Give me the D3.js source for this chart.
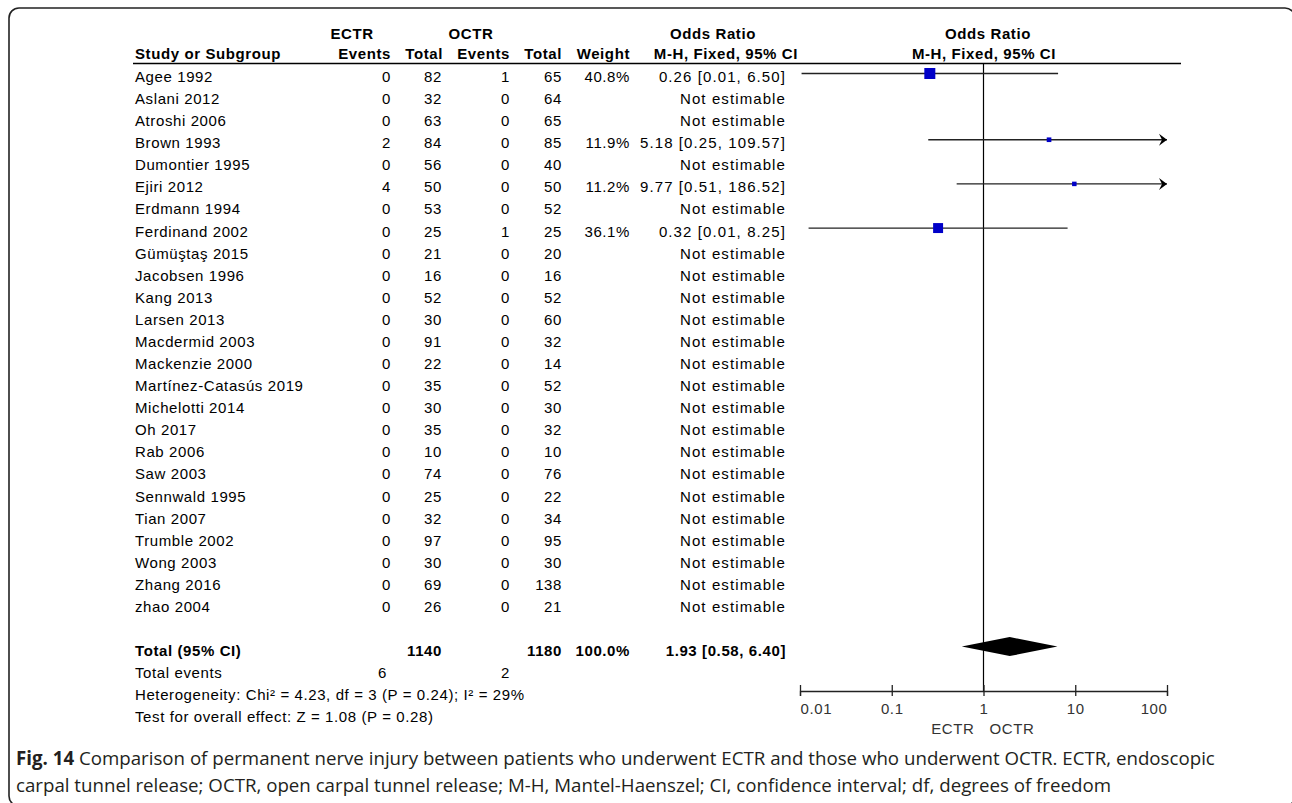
<!DOCTYPE html>
<html><head><meta charset="utf-8">
<script src="https://cdn.jsdelivr.net/npm/d3@7"></script>
<style>body{margin:0;background:#fff}svg{display:block}</style>
</head><body>
<svg id="c" width="1292" height="803"></svg>
<script>
const studies = ["Agee 1992","Aslani 2012","Atroshi 2006","Brown 1993","Dumontier 1995","Ejiri 2012","Erdmann 1994","Ferdinand 2002","Gümüştaş 2015","Jacobsen 1996","Kang 2013","Larsen 2013","Macdermid 2003","Mackenzie 2000","Martínez-Catasús 2019","Michelotti 2014","Oh 2017","Rab 2006","Saw 2003","Sennwald 1995","Tian 2007","Trumble 2002","Wong 2003","Zhang 2016","zhao 2004"];
const ectrEvents = [0,0,0,2,0,4,0,0,0,0,0,0,0,0,0,0,0,0,0,0,0,0,0,0,0];
const ectrTotal  = [82,32,63,84,56,50,53,25,21,16,52,30,91,22,35,30,35,10,74,25,32,97,30,69,26];
const octrEvents = [1,0,0,0,0,0,0,1,0,0,0,0,0,0,0,0,0,0,0,0,0,0,0,0,0];
const octrTotal  = [65,64,65,85,40,50,52,25,20,16,52,60,32,14,52,30,32,10,76,22,34,95,30,138,21];
const weights    = [40.8,null,null,11.9,null,11.2,null,36.1,null,null,null,null,null,null,null,null,null,null,null,null,null,null,null,null,null];
const oddsRatio  = [0.26,null,null,5.18,null,9.77,null,0.32,null,null,null,null,null,null,null,null,null,null,null,null,null,null,null,null,null];
const ciLow      = [0.0104,null,null,0.25,null,0.51,null,0.0124,null,null,null,null,null,null,null,null,null,null,null,null,null,null,null,null,null];
const ciHigh     = [6.50,null,null,109.57,null,186.52,null,8.25,null,null,null,null,null,null,null,null,null,null,null,null,null,null,null,null,null];
const total = {ectrTotal:1140, octrTotal:1180, weight:100.0, or:1.93, low:0.58, high:6.40, ectrEvents:6, octrEvents:2};
const heterogeneity = "Heterogeneity: Chi² = 4.23, df = 3 (P = 0.24); I² = 29%";
const overallTest = "Test for overall effect: Z = 1.08 (P = 0.28)";
const tickValues = [0.01, 0.1, 1, 10, 100];
const tickLabels = ["0.01","0.1","1","10","100"];
const favours = ["ECTR","OCTR"];
const caption1Bold = "Fig. 14";
const caption1 = " Comparison of permanent nerve injury between patients who underwent ECTR and those who underwent OCTR. ECTR, endoscopic";
const caption2 = "carpal tunnel release; OCTR, open carpal tunnel release; M-H, Mantel-Haenszel; CI, confidence interval; df, degrees of freedom";

const svg = d3.select("#c");
const FONT = "'Liberation Sans', Arial, sans-serif";
const fs = 15, LS = 0.6;

// frame
svg.append("rect").attr("x",9).attr("y",8).attr("width",1286).attr("height",798)
  .attr("rx",10).attr("fill","none").attr("stroke","#222").attr("stroke-width",1.6);

const x = d3.scaleLog().domain([0.01,100]).range([800,1167]);
const y0 = 73.5, step = 22.08;
const y = i => y0 + i*step;
const size = d3.scaleLinear().domain([11.2,40.8]).range([4.5,11]);

const col = {study:135, ee:391, et:442, oe:510, ot:562, w:630, ci:786};
const g = svg.append("g").attr("font-family",FONT).attr("font-size",fs).attr("letter-spacing",LS).attr("fill","#000");

function txt(s, xx, yy, anchor, bold){
  return g.append("text").attr("x",xx).attr("y",yy).attr("text-anchor",anchor||"start")
    .attr("font-weight",bold?"bold":"normal").text(s);
}
// headers
const hb1 = 39, hb2 = 59;
txt("ECTR",352,hb1,"middle",true);
txt("OCTR",471,hb1,"middle",true);
txt("Odds Ratio",713,hb1,"middle",true);
txt("Odds Ratio",988,hb1,"middle",true);
txt("Study or Subgroup",col.study,hb2,"start",true);
txt("Events",col.ee,hb2,"end",true);
txt("Total",col.et+1,hb2,"end",true);
txt("Events",col.oe,hb2,"end",true);
txt("Total",col.ot,hb2,"end",true);
txt("Weight",col.w,hb2,"end",true);
txt("M-H, Fixed, 95% CI",798,hb2,"end",true);
txt("M-H, Fixed, 95% CI",984,hb2,"middle",true);
svg.append("line").attr("x1",133).attr("x2",1181).attr("y1",63.5).attr("y2",63.5).attr("stroke","#000").attr("stroke-width",1.3);

const f2 = d3.format(".2f"), f1 = d3.format(".1f");
studies.forEach((s,i)=>{
  const b = y(i)+8.5;
  txt(s,col.study,b);
  txt(ectrEvents[i],col.ee,b,"end");
  txt(ectrTotal[i],col.et,b,"end");
  txt(octrEvents[i],col.oe,b,"end");
  txt(octrTotal[i],col.ot,b,"end");
  if(weights[i]!=null) txt(f1(weights[i])+"%",col.w,b,"end");
  txt(oddsRatio[i]!=null ? `${f2(oddsRatio[i])} [${f2(ciLow[i])}, ${f2(ciHigh[i])}]` : "Not estimable", col.ci, b, "end")
    .attr("letter-spacing",1.1);
});

// vertical line of no effect
svg.append("line").attr("x1",x(1)).attr("x2",x(1)).attr("y1",63.5).attr("y2",691).attr("stroke","#000").attr("stroke-width",1.2);

// CIs
const plot = svg.append("g");
studies.forEach((s,i)=>{
  if(oddsRatio[i]==null) return;
  const yy = y(i);
  const lo = Math.max(ciLow[i],0.01), hi = Math.min(ciHigh[i],100);
  plot.append("line").attr("x1",x(lo)).attr("x2",x(hi)).attr("y1",yy).attr("y2",yy).attr("stroke","#222").attr("stroke-width",1.3);
  if(ciHigh[i]>100){
    const xe = x(100);
    plot.append("path").attr("d",`M${xe-8},${yy-6}L${xe},${yy}L${xe-8},${yy+6}L${xe-5},${yy}Z`).attr("fill","#000");
  }
  const sz = size(weights[i]);
  plot.append("rect").attr("x",x(oddsRatio[i])-sz/2).attr("y",yy-sz/2).attr("width",sz).attr("height",sz).attr("fill","#0000c8");
});

// totals
const tb = y(26)+8.5;
txt("Total (95% CI)",col.study,tb,"start",true);
txt(total.ectrTotal,col.et,tb,"end",true);
txt(total.octrTotal,col.ot,tb,"end",true);
txt(f1(total.weight)+"%",col.w,tb,"end",true);
txt(`${f2(total.or)} [${f2(total.low)}, ${f2(total.high)}]`,col.ci,tb,"end",true);
const dy = y(26)-1;
plot.append("path").attr("d",`M${x(total.low)},${dy}L${x(total.or)},${dy-9.5}L${x(total.high)},${dy}L${x(total.or)},${dy+9.5}Z`).attr("fill","#000");
txt("Total events",col.study,y(27)+8.5);
txt(total.ectrEvents,col.ee-4,y(27)+8.5,"end");
txt(total.octrEvents,col.oe,y(27)+8.5,"end");
txt(heterogeneity,col.study,y(28)+8.5);
txt(overallTest,col.study,y(29)+8.5);

// axis
const axY = 691;
const ax = svg.append("g").attr("transform",`translate(0,${axY})`)
  .call(d3.axisBottom(x).tickValues(tickValues).tickFormat((d,i)=>tickLabels[i]).tickSizeOuter(0).tickSize(5).tickPadding(7));
ax.select(".domain").attr("stroke","#222").attr("stroke-width",1.3);
ax.selectAll(".tick line").attr("y1",-6).attr("y2",5).attr("stroke","#222").attr("stroke-width",1.3);
ax.selectAll(".tick text").attr("font-family",FONT).attr("font-size",fs).attr("letter-spacing",LS).attr("fill","#333")
  .attr("text-anchor",(d,i)=> i===0 ? "start" : (i===tickValues.length-1 ? "end" : "middle"));
txt(favours[0],x(1)-9,734,"end").attr("fill","#333");
txt(favours[1],x(1)+6,734,"start").attr("fill","#333");

// caption
const cap = svg.append("g").attr("font-family","'Open Sans', 'Noto Sans', sans-serif").attr("font-size",18.7).attr("fill","#231f20");
const t1 = cap.append("text").attr("x",16).attr("y",765);
t1.append("tspan").attr("font-weight","bold").text(caption1Bold);
t1.append("tspan").text(caption1);
cap.append("text").attr("x",16).attr("y",792).text(caption2);
</script>
</body></html>
